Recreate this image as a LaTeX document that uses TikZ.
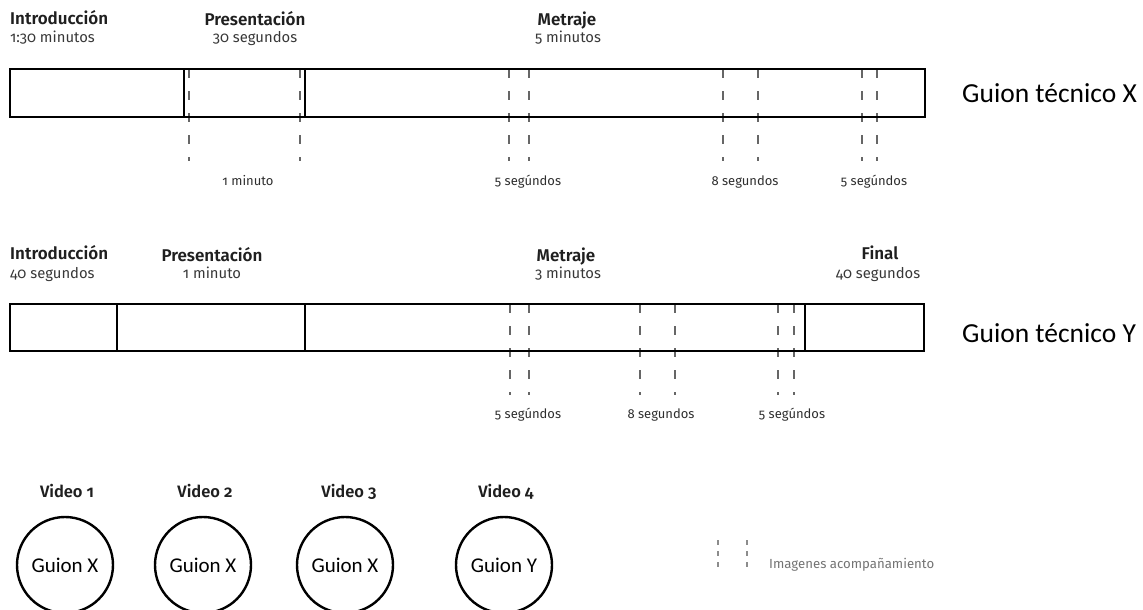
\documentclass[tikz,border=0pt]{standalone}
\usepackage{fontspec}
\setmainfont{Fira Sans}[Numbers=OldStyle,BoldFont={Fira Sans SemiBold}]
\newfontfamily\guionfont{Carlito}
\begin{document}
\begin{tikzpicture}[x=1pt,y=-1pt,
  bar/.style={draw=black,line width=2.8pt},
  divider/.style={draw=black,line width=1.8pt},
  dashline/.style={draw=black!60,line width=1.2pt,dash pattern=on 9pt off 13pt},
  legdash/.style={draw=black!45,line width=1.1pt,dash pattern=on 5pt off 6pt},
  head/.style={font=\fontsize{17}{19}\selectfont\bfseries,inner sep=0pt,text=black!88},
  sub/.style={font=\fontsize{14.8}{16}\selectfont,inner sep=0pt,text=black!78},
  dur/.style={font=\fontsize{13}{15}\selectfont,inner sep=0pt,text=black!82,anchor=base},
  script/.style={font=\guionfont\fontsize{27.5}{30}\selectfont,inner sep=0pt,anchor=base west},
  vid/.style={circle,draw=black,line width=2.4pt,minimum size=96pt,inner sep=0pt,font=\guionfont\fontsize{21}{23}\selectfont},
  vidlabel/.style={font=\fontsize{16.5}{18}\selectfont\bfseries,inner sep=0pt,anchor=base,text=black!88},
  legtext/.style={font=\fontsize{13.2}{15}\selectfont,inner sep=0pt,anchor=base west,text=black!55}]
\useasboundingbox (0,0) rectangle (1143,610);

% ---------- Guion técnico X ----------
\foreach \x in {189,300,509,529,723,758,862,877}
  \draw[dashline] (\x,69) -- (\x,161);
\draw[bar] (10,69) rectangle (925,117);
\draw[divider] (184,69) -- (184,117);
\draw[divider] (305,69) -- (305,117);

\node[head,anchor=base west] (xintro) at (10,25) {Introducción};
\node[sub,anchor=base west] (xintrod) at (10,43) {1:30 minutos};
\node[head,anchor=base] (xpres) at (255,26) {Presentación};
\node[sub,anchor=base] (xpresd) at (255,43) {30 segundos};
\node[head,anchor=base] (xmet) at (567,26) {Metraje};
\node[sub,anchor=base] (xmetd) at (568,43) {5 minutos};

\node[dur] (xd1) at (248,185) {1 minuto};
\node[dur] (xd2) at (528,185) {5 segúndos};
\node[dur] (xd3) at (745,185) {8 segundos};
\node[dur] (xd4) at (874,185) {5 segúndos};

\node[script] (gx) at (962,102) {Guion técnico X};

% ---------- Guion técnico Y ----------
\foreach \x in {510,529,640,675,778,794}
  \draw[dashline] (\x,304) -- (\x,395);
\draw[bar] (10,304) rectangle (924,351);
\draw[divider] (117,304) -- (117,351);
\draw[divider] (305,304) -- (305,351);
\draw[divider] (805,304) -- (805,351);

\node[head,anchor=base west] (yintro) at (10,259) {Introducción};
\node[sub,anchor=base west] (yintrod) at (10,278) {40 segundos};
\node[head,anchor=base] (ypres) at (212,261) {Presentación};
\node[sub,anchor=base] (ypresd) at (212,278) {1 minuto};
\node[head,anchor=base] (ymet) at (566,261) {Metraje};
\node[sub,anchor=base] (ymetd) at (568,278) {3 minutos};
\node[head,anchor=base] (yfin) at (880,259) {Final};
\node[sub,anchor=base] (yfind) at (878,278) {40 segundos};

\node[dur] (yd1) at (528,418) {5 segúndos};
\node[dur] (yd2) at (661,418) {8 segundos};
\node[dur] (yd3) at (792,418) {5 segúndos};

\node[script] (gy) at (962,342) {Guion técnico Y};

% ---------- Videos ----------
\node[vid] (v1) at (65,565) {Guion X};
\node[vid] (v2) at (203,565) {Guion X};
\node[vid] (v3) at (345,565) {Guion X};
\node[vid] (v4) at (504,565) {Guion Y};
\node[vidlabel] (l1) at (67,497) {Video 1};
\node[vidlabel] (l2) at (205,497) {Video 2};
\node[vidlabel] (l3) at (349,497) {Video 3};
\node[vidlabel] (l4) at (506,497) {Video 4};

% ---------- Legend ----------
\coordinate (la1) at (718,540);
\coordinate (lb1) at (718,569);
\coordinate (la2) at (747,540);
\coordinate (lb2) at (747,569);
\draw[legdash] (la1) -- (lb1);
\draw[legdash] (la2) -- (lb2);
\node[legtext] (leg) at (769,568) {Imagenes acompañamiento};
\end{tikzpicture}
\end{document}
